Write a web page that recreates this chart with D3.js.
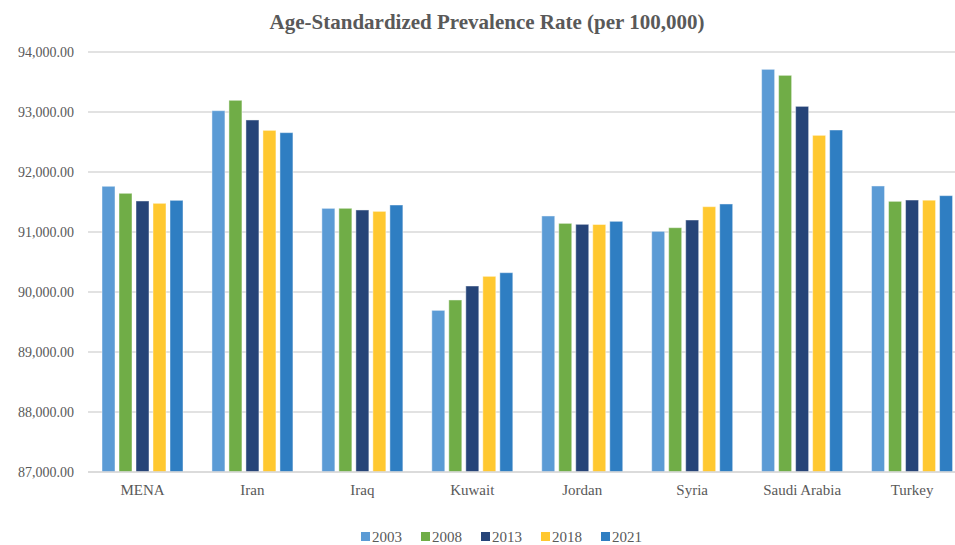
<!DOCTYPE html>
<html>
<head>
<meta charset="utf-8">
<script src="https://cdn.jsdelivr.net/npm/d3@7"></script>
<style>
  body { margin: 0; background: #fff; }
  svg text { font-family: "Liberation Serif", "Times New Roman", serif; fill: #595959; }
  .title { font-size: 21px; font-weight: bold; }
</style>
</head>
<body>
<svg width="955" height="545"></svg>
<script>
var categories = ["MENA", "Iran", "Iraq", "Kuwait", "Jordan", "Syria", "Saudi Arabia", "Turkey"];
var years = ["2003", "2008", "2013", "2018", "2021"];
var colors = ["#5b9bd5", "#70ad47", "#264478", "#ffc830", "#2f7ec2"];
var v2003 = [91762, 93022, 91394, 89694, 91267, 91011, 93711, 91767];
var v2008 = [91645, 93195, 91395, 89867, 91144, 91072, 93611, 91511];
var v2013 = [91517, 92867, 91367, 90100, 91128, 91200, 93094, 91533];
var v2018 = [91478, 92694, 91344, 90261, 91125, 91422, 92611, 91530];
var v2021 = [91528, 92656, 91450, 90322, 91178, 91467, 92700, 91606];
var yTicks = [87000, 88000, 89000, 90000, 91000, 92000, 93000, 94000];

function main() {
    var svg = d3.select("svg");
    var series = [v2003, v2008, v2013, v2018, v2021];

    var x0 = d3.scaleBand().domain(categories).range([87.5, 967]);
    var x1 = d3.scaleBand().domain(years)
               .range([14.5, 95.5])
               .paddingInner(4 / 17);
    var y = d3.scaleLinear().domain([87000, 94000]).range([472, 52]);
    var color = d3.scaleOrdinal(years, colors);

    // gridlines
    svg.append("g")
       .selectAll("line")
       .data(yTicks)
       .enter().append("line")
       .attr("x1", 88).attr("x2", 955)
       .attr("y1", function(d) { return y(d); })
       .attr("y2", function(d) { return y(d); })
       .attr("stroke", "#d9d9d9")
       .attr("stroke-width", 1.5);

    // y axis labels
    var yAxis = svg.append("g")
       .attr("transform", "translate(78,0)")
       .call(d3.axisLeft(y).tickValues(yTicks).tickSize(0).tickPadding(4)
             .tickFormat(d3.format(",.2f")))
       .attr("font-family", null)
       .attr("font-size", 14);
    yAxis.select(".domain").remove();

    // bars
    var rows = [];
    categories.forEach(function(c, i) {
        years.forEach(function(yr, j) {
            rows.push({cat: c, year: yr, value: series[j][i]});
        });
    });

    svg.append("g")
       .selectAll("rect")
       .data(rows)
       .enter().append("rect")
       .attr("x", function(d) { return x0(d.cat) + x1(d.year); })
       .attr("y", function(d) { return y(d.value); })
       .attr("width", x1.bandwidth())
       .attr("height", function(d) { return y(87000) - y(d.value); })
       .attr("fill", function(d) { return color(d.year); })
       .attr("stroke", "rgba(255,255,255,0.45)")
       .attr("stroke-width", 1);

    // x axis
    var xAxis = svg.append("g")
       .attr("transform", "translate(0,472)")
       .call(d3.axisBottom(x0).tickSize(0).tickPadding(12))
       .attr("font-family", null)
       .attr("font-size", 15);
    xAxis.select(".domain").attr("stroke", "#d9d9d9").attr("stroke-width", 1.5)
         .attr("d", "M88,0H955");

    // title
    svg.append("text")
       .attr("class", "title")
       .attr("x", 487)
       .attr("y", 29)
       .attr("text-anchor", "middle")
       .text("Age-Standardized Prevalence Rate (per 100,000)");

    // legend
    var legend = svg.append("g")
       .selectAll("g")
       .data(years)
       .enter().append("g")
       .attr("transform", function(d, i) { return "translate(" + (361 + i * 60) + ",532)"; });
    legend.append("rect")
       .attr("width", 9).attr("height", 9)
       .attr("fill", function(d) { return color(d); });
    legend.append("text")
       .attr("x", 11).attr("y", 9.5)
       .attr("font-size", "15px")
       .text(function(d) { return d; });
}
main();
</script>
</body>
</html>
